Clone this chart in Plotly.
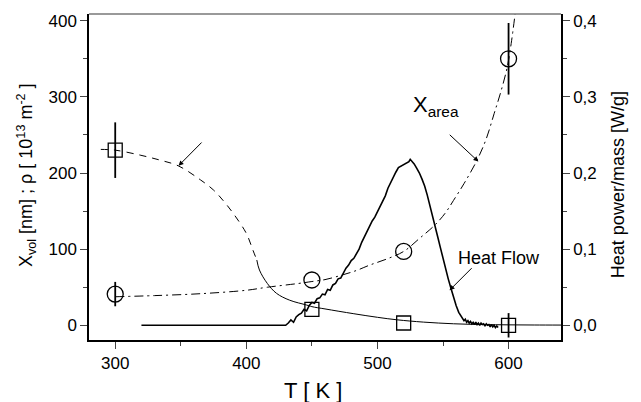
import plotly.graph_objects as go

# Measured points: rho (squares) and X_area (circles)
T_pts = [300, 450, 520, 600]
rho_vals = [230, 21, 3, 0]
rho_err = [36.5, 0, 0, 16]
xarea_vals = [41, 59.5, 97, 350]
xarea_err = [16, 0, 0, 47]

# Fitted curve for rho: dashed part then solid part
rho_dash_T = [289, 300, 319, 334, 348, 365, 375, 382, 390, 400, 405, 408]
rho_dash_v = [231, 230, 223.5, 217, 209.5, 191, 177.6, 164.5, 147, 120.7, 98.8, 85.7]
rho_solid_T = [408, 410, 416, 423, 433, 446, 450, 460, 482, 500, 515, 535, 558, 580, 600, 620, 640]
rho_solid_v = [85.7, 72.6, 55, 42, 33, 26.6, 24.5, 21.5, 15.2, 10.5, 7.2, 4.2, 2.0, 1.0, 0.6, 0.4, 0.3]

# X_area curve (dash-dot)
xa_T = [300, 330, 365, 400, 416, 440, 450, 460, 473, 484, 494, 507, 520, 532, 544, 552, 558, 566, 576, 583, 589, 594, 599, 602, 605]
xa_v = [37.5, 39, 41.5, 46, 50, 55, 57.5, 60, 66, 72, 79, 87, 97, 114, 132, 148, 164, 186, 217, 245, 278, 306, 339, 370, 409]

# Heat flow signal [W/g]
hf_T = [320, 430, 432, 434, 436, 438, 440, 442, 444, 446, 448, 450, 452, 454, 456, 458,
        460, 462, 464, 466, 468, 470, 472, 474, 476, 478, 480, 482, 484, 486, 488, 490,
        492, 494, 496, 498, 500, 502, 504, 506, 508, 510, 512, 514, 516, 518, 520, 522,
        524, 525, 526, 528, 530, 532, 534, 536, 538, 540, 542, 544, 546, 548, 550, 552,
        554, 556, 558, 560, 562, 564, 566, 567, 568, 569, 570, 571, 572, 573, 574, 575,
        576, 577, 578, 579, 580, 581, 582, 583, 584, 585, 586, 587, 588, 589, 590, 591, 592]
hf_v = [0, 0, 0.003, 0.007, 0.004, 0.011, 0.014, 0.016, 0.021, 0.019, 0.026, 0.030, 0.029, 0.035, 0.036, 0.041,
        0.040, 0.047, 0.046, 0.053, 0.055, 0.061, 0.062, 0.069, 0.075, 0.079, 0.085, 0.088, 0.094, 0.100, 0.109, 0.116,
        0.125, 0.130, 0.137, 0.142, 0.149, 0.155, 0.163, 0.170, 0.180, 0.187, 0.196, 0.201, 0.207, 0.209, 0.212, 0.214,
        0.215, 0.218, 0.216, 0.212, 0.206, 0.200, 0.192, 0.183, 0.171, 0.158, 0.143, 0.130, 0.116, 0.102, 0.087, 0.074,
        0.061, 0.049, 0.036, 0.026, 0.017, 0.011, 0.006, 0.008, 0.004, 0.006, 0.003, 0.005, 0.002, 0.004, 0.001, 0.004,
        0.001, 0.003, 0.000, 0.003, 0.001, 0.002, -0.001, 0.002, 0.000, 0.001, -0.002, 0.001, -0.002, 0.000, -0.003, -0.001, -0.003]

FONT = "Liberation Sans, Arial, sans-serif"
fig = go.Figure()

fig.add_trace(go.Scatter(x=rho_dash_T, y=rho_dash_v, mode="lines", line_shape="spline",
                         line=dict(color="black", width=1, dash="7px,6px")))
fig.add_trace(go.Scatter(x=rho_solid_T, y=rho_solid_v, mode="lines",
                         line=dict(color="black", width=1), line_shape="spline"))
fig.add_trace(go.Scatter(x=xa_T, y=xa_v, mode="lines", line_shape="spline",
                         line=dict(color="black", width=1, dash="9px,4px,2px,4px")))
fig.add_trace(go.Scatter(x=hf_T, y=hf_v, mode="lines", yaxis="y2",
                         line=dict(color="black", width=1.6)))
fig.add_trace(go.Scatter(x=T_pts, y=rho_vals, mode="markers",
                         marker=dict(symbol="square-open", size=14, color="black", line=dict(width=1.3)),
                         error_y=dict(type="data", array=rho_err, color="black", thickness=1.8, width=0)))
fig.add_trace(go.Scatter(x=T_pts, y=xarea_vals, mode="markers",
                         marker=dict(symbol="circle-open", size=16, color="black", line=dict(width=1.3)),
                         error_y=dict(type="data", array=xarea_err, color="black", thickness=1.8, width=0)))

arrow = dict(showarrow=True, arrowhead=2, arrowsize=1, arrowwidth=1, arrowcolor="black",
             axref="x", ayref="y", text="")
fig.add_annotation(x=348.3, y=209.5, ax=367, ay=242, **arrow)
fig.add_annotation(x=577, y=215, ax=554, ay=252, **arrow)
fig.add_annotation(x=555, y=46, ax=573, ay=77, **arrow)
fig.add_annotation(x=545, y=288, text="X<sub>area</sub>", showarrow=False,
                   font=dict(family=FONT, size=22, color="black"))
fig.add_annotation(x=593, y=89, text="Heat Flow", showarrow=False,
                   font=dict(family=FONT, size=18, color="black"))

# axis titles
title_pos = dict(xref="paper", yref="paper", showarrow=False, xanchor="center", yanchor="middle")
fig.add_annotation(x=-0.1335, y=0.506, textangle=-90,
                   text="X<sub>vol</sub> [nm] ; ρ [ 10<sup>13</sup> m<sup>-2</sup> ]",
                   font=dict(family=FONT, size=18, color="black"), **title_pos)
fig.add_annotation(x=1.1208, y=0.475, textangle=-90,
                   text="Heat power/mass [W/g]", font=dict(family=FONT, size=18, color="black"), **title_pos)
fig.add_annotation(x=0.4746, y=-0.156,
                   text="T [ K ]", font=dict(family=FONT, size=22, color="black"), **title_pos)

# top frame line
fig.add_shape(type="line", xref="paper", yref="paper", x0=0, x1=1, y0=1, y1=1,
              line=dict(color="#777777", width=1.5))

tickfont = dict(family=FONT, size=17, color="black")
common = dict(ticks="outside", ticklen=7, tickwidth=1.3, showline=True, linecolor="black",
              linewidth=1.5, showgrid=False, zeroline=False, tickfont=tickfont, automargin=False)
fig.update_layout(
    width=641, height=402,
    margin=dict(l=89, r=80, t=14, b=62),
    plot_bgcolor="white", paper_bgcolor="white",
    showlegend=False,
    xaxis=dict(range=[280, 640], tickvals=[300, 400, 500, 600],
               minor=dict(ticks="outside", ticklen=4, dtick=50, tick0=0, showgrid=False), **common),
    yaxis=dict(range=[-19.3, 408.8], tickvals=[0, 100, 200, 300, 400],
               minor=dict(ticks="outside", ticklen=4, dtick=50, tick0=0, showgrid=False), **common),
    yaxis2=dict(range=[-0.0193, 0.4088], overlaying="y", side="right",
                tickvals=[0, 0.1, 0.2, 0.3, 0.4], ticktext=["0,0", "0,1", "0,2", "0,3", "0,4"],
                minor=dict(ticks="outside", ticklen=4, dtick=0.05, tick0=0, showgrid=False), **common),
)

fig.write_html("out.html")
